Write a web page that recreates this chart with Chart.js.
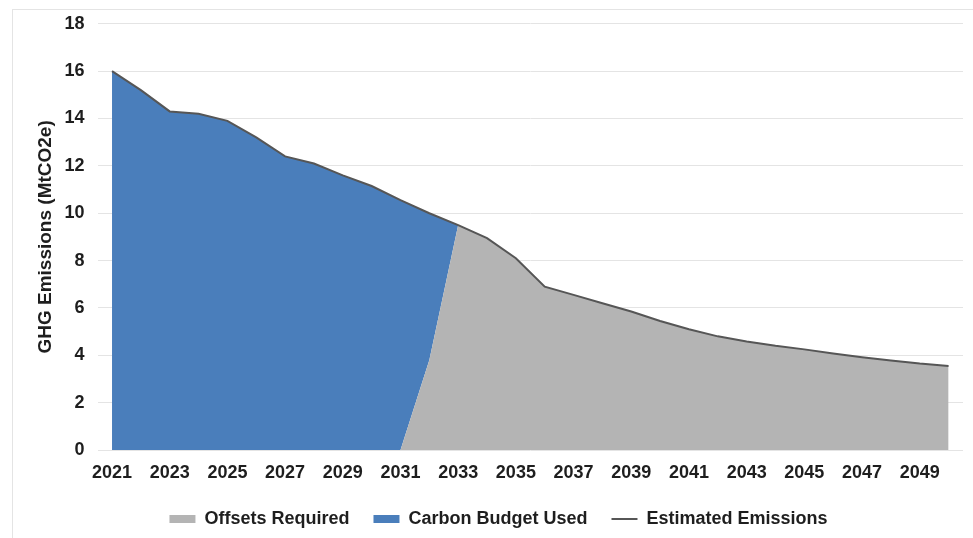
<!DOCTYPE html>
<html>
<head>
<meta charset="utf-8">
<script src="https://cdn.jsdelivr.net/npm/chart.js@4.4.1/dist/chart.umd.min.js"></script>
<style>
    html, body { margin: 0; padding: 0; background: #ffffff; }
    #wrap { position: relative; width: 973px; height: 538px; }
    #frame {
        position: absolute; left: 12px; top: 9px; right: 0; bottom: 0;
        border-left: 1px solid #e4e4e4; border-top: 1px solid #e4e4e4;
        pointer-events: none;
    }
</style>
</head>
<body>
<div id="wrap">
    <canvas id="emissions_chart" width="973" height="538"></canvas>
    <div id="frame"></div>
</div>
<script>
// years on the x axis
const years = ['2021', '2022', '2023', '2024', '2025', '2026', '2027', '2028', '2029', '2030',
               '2031', '2032', '2033', '2034', '2035', '2036', '2037', '2038', '2039', '2040',
               '2041', '2042', '2043', '2044', '2045', '2046', '2047', '2048', '2049', '2050'];

// estimated emissions (MtCO2e)
const estimatedEmissions = [16.0, 15.2, 14.3, 14.2, 13.9, 13.2, 12.4, 12.1, 11.6, 11.15,
                            10.55, 10.0, 9.5, 8.95, 8.1, 6.9, 6.55, 6.2, 5.85, 5.45,
                            5.1, 4.8, 4.58, 4.4, 4.25, 4.08, 3.92, 3.78, 3.65, 3.55];

// offsets required (bottom of the stack)
const offsetsRequired = [0, 0, 0, 0, 0, 0, 0, 0, 0, 0,
                         0, 3.8, 9.5, 8.95, 8.1, 6.9, 6.55, 6.2, 5.85, 5.45,
                         5.1, 4.8, 4.58, 4.4, 4.25, 4.08, 3.92, 3.78, 3.65, 3.55];

// carbon budget used (stacked on the offsets)
const carbonBudgetUsed = [16.0, 15.2, 14.3, 14.2, 13.9, 13.2, 12.4, 12.1, 11.6, 11.15,
                          10.55, 6.2, 0, null, null, null, null, null, null, null,
                          null, null, null, null, null, null, null, null, null, null];

// y axis ticks
const yTicks = [0, 2, 4, 6, 8, 10, 12, 14, 16, 18];

const textColor = '#1e1e1e';
const fontFamily = "'Liberation Sans', Arial, sans-serif";
const boldFont = { family: fontFamily, size: 18, weight: 'bold' };

let ctx = document.getElementById('emissions_chart').getContext('2d');

const config = {
    type: 'line',
    data: {
        labels: years,
        datasets: [
            {
                label: 'Offsets Required',
                data: offsetsRequired,
                stack: 'areas',
                fill: 'origin',
                backgroundColor: '#b4b4b4',
                borderColor: '#b4b4b4',
                borderWidth: 0,
                pointRadius: 0,
                pointStyle: 'rect',
                tension: 0,
                order: 1,   // lower order = bottom of the stack
            },
            {
                label: 'Carbon Budget Used',
                data: carbonBudgetUsed,
                stack: 'areas',
                fill: '-1',
                backgroundColor: '#4a7ebb',
                borderColor: '#4a7ebb',
                borderWidth: 0,
                pointRadius: 0,
                pointStyle: 'rect',
                tension: 0,
                order: 2,
            },
            {
                label: 'Estimated Emissions',
                data: estimatedEmissions,
                stack: 'line',
                fill: false,
                borderColor: '#565656',
                backgroundColor: '#565656',
                borderWidth: 2,
                pointRadius: 0,
                pointStyle: 'line',
                tension: 0,
                order: 0,
            },
        ],
    },
    options: {
        responsive: false,
        animation: false,
        layout: {
            padding: { left: 34, right: 10, top: 21, bottom: 0 }
        },
        scales: {
            x: {
                offset: true,
                grid: { display: false, drawTicks: false },
                border: { display: false },
                ticks: {
                    autoSkip: false,
                    maxRotation: 0,
                    padding: 12,
                    color: textColor,
                    font: boldFont,
                    callback: function(value, index) {
                        return index % 2 === 0 ? years[index] : '';
                    }
                },
                afterFit: function(scale) { scale.height = 36; }
            },
            y: {
                stacked: true,
                min: yTicks[0],
                max: yTicks[yTicks.length - 1],
                grid: { color: '#e4e4e4', lineWidth: 1, drawTicks: false },
                border: { display: false },
                ticks: {
                    stepSize: 2,
                    padding: 13,
                    color: textColor,
                    font: boldFont,
                },
                title: {
                    display: true,
                    text: 'GHG Emissions (MtCO2e)',
                    color: textColor,
                    font: { family: fontFamily, size: 19, weight: 'bold' },
                    padding: { top: 0, bottom: 0 },
                },
                afterFit: function(scale) { scale.width = 63.6; }
            }
        },
        plugins: {
            legend: {
                position: 'bottom',
                labels: {
                    usePointStyle: true,
                    pointStyleWidth: 26,
                    boxHeight: 8,
                    padding: 24,
                    color: textColor,
                    font: boldFont,
                    sort: (a, b) => a.datasetIndex - b.datasetIndex,
                }
            },
            tooltip: { enabled: false },
        }
    }
};

new Chart(ctx, config);
</script>
</body>
</html>
